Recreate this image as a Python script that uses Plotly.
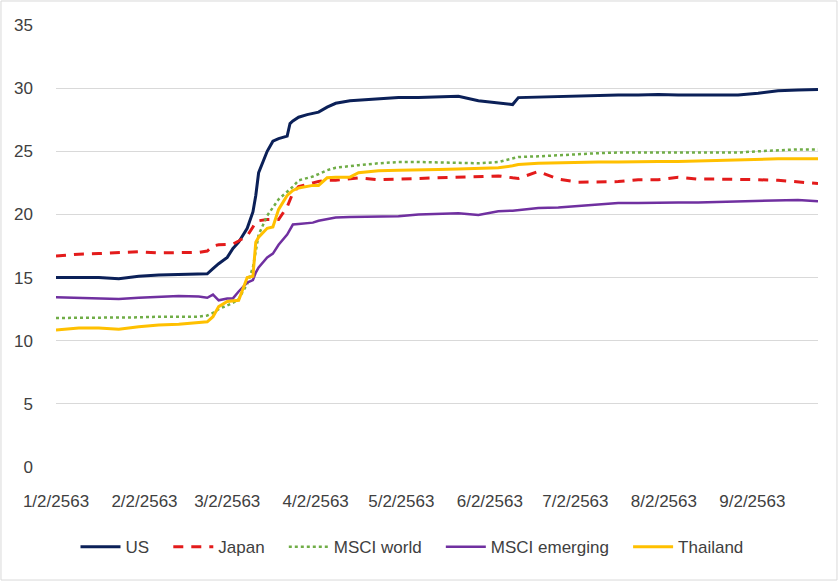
import plotly.graph_objects as go

dates = ["2020-01-02", "2020-01-10", "2020-01-17", "2020-01-24", "2020-01-31",
         "2020-02-07", "2020-02-14", "2020-02-21", "2020-02-24", "2020-02-26", "2020-02-28",
         "2020-03-02", "2020-03-04", "2020-03-06", "2020-03-09", "2020-03-11", "2020-03-12",
         "2020-03-13", "2020-03-16", "2020-03-18", "2020-03-20", "2020-03-23", "2020-03-24",
         "2020-03-25", "2020-03-27", "2020-03-30",
         "2020-04-01", "2020-04-03", "2020-04-06", "2020-04-09", "2020-04-14", "2020-04-17", "2020-04-24",
         "2020-05-01", "2020-05-08", "2020-05-15", "2020-05-22", "2020-05-29",
         "2020-06-05", "2020-06-10", "2020-06-12", "2020-06-19", "2020-06-26",
         "2020-07-03", "2020-07-10", "2020-07-17", "2020-07-24", "2020-07-31",
         "2020-08-07", "2020-08-14", "2020-08-21", "2020-08-28",
         "2020-09-04", "2020-09-11", "2020-09-18", "2020-09-25"]

us = [15.0, 15.0, 15.0, 14.9, 15.1,
      15.2, 15.25, 15.25, 15.3, 15.7, 16.1,
      16.6, 17.3, 17.8, 18.9, 20.2, 21.5,
      23.3, 25.0, 25.8, 26.0, 26.2, 27.2,
      27.4, 27.7, 27.9,
      28.0, 28.1, 28.5, 28.8, 29.0, 29.05, 29.15,
      29.25, 29.25, 29.3, 29.35, 29.0,
      28.85, 28.7, 29.25, 29.3, 29.3,
      29.4, 29.45, 29.45, 29.45, 29.5,
      29.45, 29.45, 29.45, 29.45,
      29.6, 29.8, 29.85, 29.9]

japan = [16.7, 16.85, 16.9, 17.0, 17.05,
         16.95, 16.95, 17.0, 17.1, 17.5, 17.6,
         17.65, 17.65, 17.9, 18.3, 19.0, 19.4,
         19.5, 19.6, 19.6, 19.6, 20.6, 21.2,
         21.7, 22.2, 22.4,
         22.5, 22.6, 22.7, 22.7, 22.8, 22.9, 22.75,
         22.8, 22.85, 22.9, 22.95, 23.0,
         23.05, 22.9, 22.85, 23.4, 22.8,
         22.55, 22.55, 22.6, 22.75, 22.75,
         22.95, 22.8, 22.8, 22.8,
         22.75, 22.7, 22.55, 22.45]

msci_world = [11.8, 11.8, 11.8, 11.8, 11.85,
              11.9, 11.9, 11.9, 12.0, 12.2, 12.5,
              12.8, 13.0, 13.3, 14.5, 15.8, 17.2,
              18.4, 19.9, 20.6, 21.2, 21.8, 22.0,
              22.2, 22.7, 22.9,
              23.0, 23.2, 23.5, 23.7, 23.85, 23.9, 24.05,
              24.15, 24.15, 24.1, 24.1, 24.05,
              24.15, 24.4, 24.55, 24.6, 24.7,
              24.8, 24.85, 24.9, 24.9, 24.9,
              24.9, 24.9, 24.9, 24.9,
              25.0, 25.1, 25.15, 25.15]

msci_emerging = [13.45, 13.4, 13.4, 13.3, 13.4,
                 13.5, 13.55, 13.5, 13.4, 13.65, 13.2,
                 13.35, 13.35, 13.9, 14.6, 14.8, 15.4,
                 15.8, 16.6, 16.9, 17.6, 18.4, 18.8,
                 19.2, 19.25, 19.3,
                 19.35, 19.5, 19.6, 19.75, 19.8, 19.8, 19.8,
                 19.85, 20.0, 20.05, 20.1, 19.95,
                 20.25, 20.3, 20.35, 20.5, 20.55,
                 20.65, 20.8, 20.9, 20.9, 20.95,
                 20.95, 20.95, 21.0, 21.05,
                 21.1, 21.15, 21.15, 21.05]

thailand = [10.85, 11.0, 11.0, 10.9, 11.1,
            11.25, 11.3, 11.4, 11.5, 11.9, 12.7,
            13.1, 13.15, 13.2, 15.0, 15.1, 17.8,
            18.2, 18.9, 19.0, 20.4, 21.5, 21.7,
            21.9, 22.1, 22.2,
            22.3, 22.3, 22.9, 22.95, 22.95, 23.3, 23.45,
            23.5, 23.5, 23.55, 23.6, 23.65,
            23.7, 23.85, 23.95, 24.05, 24.1,
            24.1, 24.15, 24.15, 24.2, 24.2,
            24.2, 24.25, 24.3, 24.3,
            24.35, 24.4, 24.4, 24.4]

tick_dates = ["2020-01-02", "2020-02-02", "2020-03-02", "2020-04-02", "2020-05-02",
              "2020-06-02", "2020-07-02", "2020-08-02", "2020-09-02"]
tick_labels = ["1/2/2563", "2/2/2563", "3/2/2563", "4/2/2563", "5/2/2563",
               "6/2/2563", "7/2/2563", "8/2/2563", "9/2/2563"]

series_names = ["US", "Japan", "MSCI world", "MSCI emerging", "Thailand"]
series_values = [us, japan, msci_world, msci_emerging, thailand]
series_lines = [
    dict(color="#0B2058", width=3),
    dict(color="#E31B1B", width=3, dash="10px,8px"),
    dict(color="#70AD47", width=2.5, dash="dot"),
    dict(color="#7030A0", width=2.5),
    dict(color="#FFC000", width=3),
]

PAD = "\u00a0\u00a0\u00a0"

fig = go.Figure()
for name, vals, line in zip(series_names, series_values, series_lines):
    fig.add_trace(go.Scatter(x=dates, y=vals, name=name + PAD, mode="lines", line=line))

font = dict(family="Liberation Sans, Arial, sans-serif", size=17, color="#404040")

fig.update_layout(
    width=838, height=581,
    margin=dict(l=56, r=20, t=25, b=114),
    paper_bgcolor="white", plot_bgcolor="white",
    font=font,
    showlegend=True,
    legend=dict(orientation="h", xref="container", yref="container",
                x=0.5, xanchor="center", y=0.058, yanchor="middle",
                font=font, itemwidth=40, traceorder="normal"),
    xaxis=dict(type="date", range=["2020-01-02", "2020-09-25"],
               tickvals=tick_dates, ticktext=tick_labels,
               showgrid=False, zeroline=False, showline=False,
               ticks="", ticklabelstandoff=22),
    yaxis=dict(range=[0, 35], dtick=5, tick0=0,
               showgrid=True, gridcolor="#D9D9D9", gridwidth=1,
               zeroline=False, showline=False, ticks="",
               ticklabelstandoff=22),
    shapes=[dict(type="rect", xref="paper", yref="paper",
                 x0=-0.0722, x1=1.0249, y0=-0.2557, y1=1.0543,
                 line=dict(color="#D9D9D9", width=1), layer="below")],
)

fig.write_html("out.html")
